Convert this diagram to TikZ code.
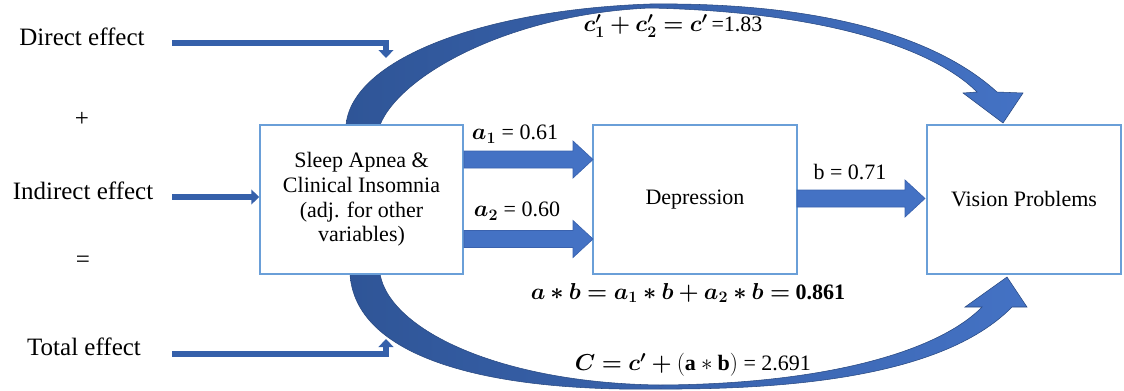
\documentclass[tikz,border=0pt]{standalone}
\usepackage{amsmath,bm}
\usepackage{fontspec}
\setmainfont{Liberation Serif}
\usetikzlibrary{arrows.meta}
\definecolor{arcL}{HTML}{2F5597}
\definecolor{arcR}{HTML}{4472C4}
\definecolor{blockfill}{HTML}{4472C4}
\definecolor{blockline}{HTML}{3A62AE}
\definecolor{boxblue}{HTML}{6A9FD8}
\definecolor{linkblue}{HTML}{3560AA}
\newcommand{\blockarr}[3]{%
  \filldraw[fill=blockfill,draw=blockline,line width=0.5pt]
    (#1,#3-8.5) -- (#2-20,#3-8.5) -- (#2-20,#3-18.5) -- (#2,#3) --
    (#2-20,#3+18.5) -- (#2-20,#3+8.5) -- (#1,#3+8.5) -- cycle;}
\begin{document}
\begin{tikzpicture}[x=0.75pt,y=-0.75pt,
  box/.style={draw=boxblue, line width=1.1pt, fill=white, inner sep=0pt,
    minimum height=111.75pt, font=\fontsize{16.5}{18.4}\selectfont, align=center},
  lbl/.style={font=\fontsize{18.75}{22}\selectfont, inner sep=0pt},
  eq/.style={font=\fontsize{16.5}{19}\selectfont, inner sep=0pt},
  thinarrow/.style={draw=linkblue, line width=4pt, -{Triangle[width=11pt,length=6pt]}},
  bigarc/.style={left color=arcL, right color=arcR, draw=arcL!85!black, line width=0.4pt}
  ]
\useasboundingbox (0,0) rectangle (1124,390);

% big curved arrows
\shade[bigarc] (346,125) .. controls (352,60) and (480,10) .. (650,4)
  .. controls (830,2) and (940,40) .. (997,92) -- (1023,93) -- (1003,123) -- (963,93) -- (977,92)
  .. controls (935,50) and (830,12) .. (650,8)
  .. controls (510,14) and (400,75) .. (380,125) -- cycle;
\shade[bigarc] (350,274) .. controls (355,355) and (480,392) .. (660,389)
  .. controls (850,390) and (960,360) .. (1012,307) -- (1027,307) -- (1007,277) -- (965,307) -- (982,307)
  .. controls (940,350) and (830,384) .. (660,385)
  .. controls (500,383) and (390,330) .. (380,274) -- cycle;

% boxes
\node[box, minimum width=152.25pt] (sleep) at (361.5,199.5)
  {Sleep Apnea \&\\Clinical Insomnia\\(adj. for other\\variables)};
\node[box, minimum width=153pt] (dep) at (695,199.5) {Depression};
\node[box, minimum width=145.5pt] (vis) at (1024,199.5) {Vision Problems};

% block arrows
\blockarr{464}{593}{159.5}
\blockarr{464}{593}{239}
\blockarr{797}{925}{198.5}

% left labels
\node[lbl, anchor=base] (direct) at (82,45) {Direct effect};
\node[lbl] (plus) at (82,119) {+};
\node[lbl, anchor=base] (indirect) at (83,199) {Indirect effect};
\node[lbl] (eqsign) at (83,262) {=};
\node[lbl, anchor=base] (total) at (84,355) {Total effect};

% small arrows
\coordinate (ds) at (172,43);
\coordinate (dt) at (386,58);
\coordinate (is) at (172,197);
\coordinate (ts) at (172,354);
\coordinate (tt) at (386,339);
\draw[thinarrow] (ds) -- (ds -| dt) -- (dt);
\draw[thinarrow] (is) -- (is -| sleep.west);
\draw[thinarrow] (ts) -- (ts -| tt) -- (tt);

% coefficient labels
\node[eq] (la1) at (515,134) {$\bm{a_1}$ = 0.61};
\node[eq] (la2) at (517,211) {$\bm{a_2}$ = 0.60};
\node[eq] (lb) at (850,172) {b = 0.71};
\node[eq] (lc) at (673,26) {$\bm{c'_1 + c'_2 = c'}$\,=1.83};
\node[eq] (lab) at (688,293) {$\bm{a \ast b = a_1 \ast b + a_2 \ast b =}$ \textbf{0.861}};
\node[eq] (ltot) at (693,365) {$\bm{C = c' +} \mathbf{(a \ast b)}$ = 2.691};
\end{tikzpicture}
\end{document}
